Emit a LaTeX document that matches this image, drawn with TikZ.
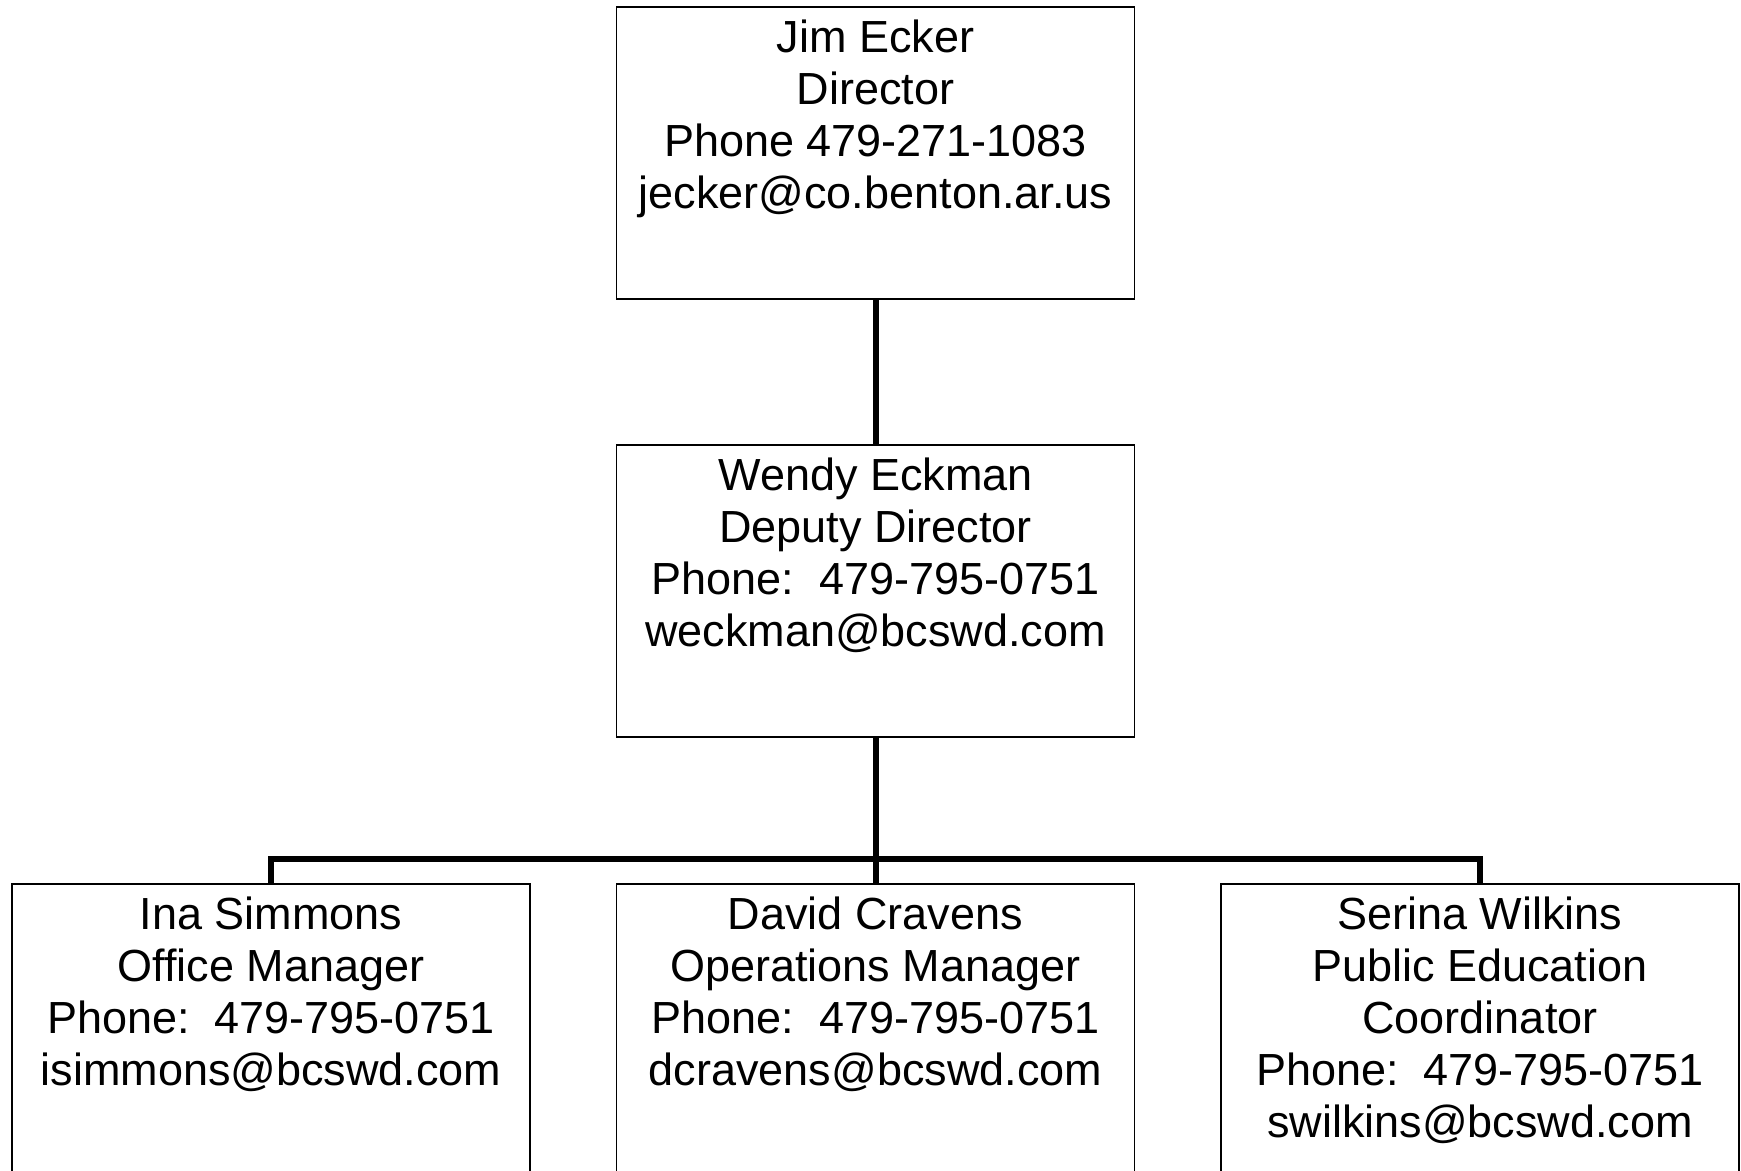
\documentclass[tikz,border=0pt]{standalone}
\usepackage{fontspec}
\setmainfont{Liberation Sans}
\usetikzlibrary{positioning}
\newcommand\cardtext[1]{\parbox[c][146pt][t]{255pt}{\centering\fontsize{22.5}{26}\selectfont\rule{0pt}{22.6pt}#1}}
\tikzset{
  card/.style={draw,line width=0.9pt,minimum width=259pt,minimum height=146pt,inner sep=0pt},
  link/.style={line width=3pt}
}
\begin{document}
\begin{tikzpicture}[x=0.5pt,y=-0.5pt]
\useasboundingbox (0,0) rectangle (1741,1171);
\node[card](dir) at(875.5,153){\cardtext{Jim Ecker\\Director\\Phone 479-271-1083\\jecker@co.benton.ar.us}};
\node[card](dep) at(875.5,591){\cardtext{Wendy Eckman\\Deputy Director\\Phone:\ \ 479-795-0751\\weckman@bcswd.com}};
\node[card](off) at(271,1030){\cardtext{Ina Simmons\\Office Manager\\Phone:\ \ 479-795-0751\\isimmons@bcswd.com}};
\node[card](ops) at(875.5,1030){\cardtext{David Cravens\\Operations Manager\\Phone:\ \ 479-795-0751\\dcravens@bcswd.com}};
\node[card](edu) at(1480,1030){\cardtext{Serina Wilkins\\Public Education\\Coordinator\\Phone:\ \ 479-795-0751\\swilkins@bcswd.com}};
\coordinate(bar) at(875.5,859);
\draw[link](dir.south)--(dep.north);
\draw[link](dep.south)--(ops.north);
\draw[link](off.north)|-(bar)-|(edu.north);
\end{tikzpicture}
\end{document}
